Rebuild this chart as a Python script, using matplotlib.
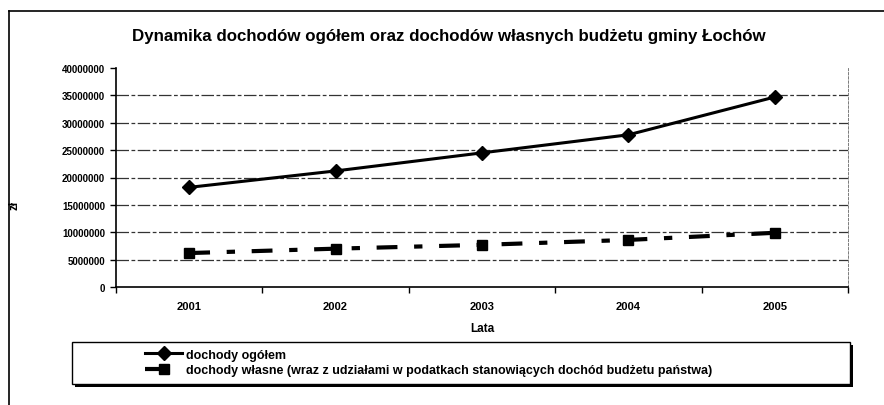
import numpy as np
import matplotlib.pyplot as plt
from matplotlib.patches import Rectangle
from matplotlib.lines import Line2D

plt.rcParams['font.family'] = ['Liberation Sans', 'DejaVu Sans']
plt.rcParams['font.weight'] = 'bold'

lata = ['2001', '2002', '2003', '2004', '2005']
dochody_ogolem = [18200000, 21200000, 24500000, 27800000, 34700000]
dochody_wlasne = [6200000, 7000000, 7700000, 8600000, 9900000]
y_ticks = [0, 5000000, 10000000, 15000000, 20000000, 25000000, 30000000, 35000000, 40000000]

W, H = 884, 406
fig = plt.figure(figsize=(W / 100, H / 100), dpi=100)
ax = fig.add_axes([116 / W, 1 - 288 / H, 732 / W, 219 / H])

x = np.arange(len(lata))

# gridlines (not at top)
for t in y_ticks[1:-1]:
    ax.axhline(t, color='#333333', lw=0.9, ls=(0, (10, 2, 3, 2)), zorder=1)

ax.plot(x, dochody_ogolem, color='black', lw=2.2, marker='D', ms=7, zorder=3,
        label='dochody ogółem')
ax.plot(x, dochody_wlasne, color='black', lw=3, ls=(0, (5, 4, 2, 4)), marker='s', ms=7,
        zorder=3, label='dochody własne (wraz z udziałami w podatkach stanowiących dochód budżetu państwa)')

ax.set_xlim(-0.5, len(lata) - 0.5)
ax.set_ylim(0, 40000000)
ax.set_yticks(y_ticks)
ax.set_yticklabels([str(t) for t in y_ticks], fontsize=7, fontweight='bold')
ax.set_xticks(x)
ax.set_xticklabels(lata, fontsize=8, fontweight='bold')
ax.set_xticks(np.arange(len(lata) + 1) - 0.5, minor=True)
ax.tick_params(axis='x', which='major', length=0, pad=10)
ax.tick_params(axis='x', which='minor', length=4, direction='out', width=1)
ax.tick_params(axis='y', length=4, direction='out', width=1, pad=4)

ax.spines['top'].set_visible(False)
ax.spines['right'].set_linestyle((0, (3, 2)))
ax.spines['right'].set_linewidth(0.6)
ax.spines['right'].set_color('#666666')
ax.spines['left'].set_linewidth(1.2)
ax.spines['bottom'].set_linewidth(1.2)

ax.set_xlabel('Lata', fontsize=8.5, fontweight='bold', labelpad=8)
fig.text(14 / W, 1 - 205 / H, 'zł', rotation=90, fontsize=8.5, fontweight='bold',
         ha='center', va='center')

fig.text(449 / W, 1 - 37 / H,
         'Dynamika dochodów ogółem oraz dochodów własnych budżetu gminy Łochów',
         fontsize=12.2, fontweight='bold', ha='center', va='center')

# legend box with shadow
shadow = Rectangle((75 / W, 1 - 388 / H), 778 / W, 42 / H, transform=fig.transFigure,
                   facecolor='black', edgecolor='none', zorder=0)
box = Rectangle((72 / W, 1 - 385 / H), 778 / W, 42 / H, transform=fig.transFigure,
                facecolor='white', edgecolor='black', lw=1, zorder=1)
fig.patches.extend([shadow, box])
handles, labels = ax.get_legend_handles_labels()
leg = fig.legend(handles, labels, loc='upper left', bbox_to_anchor=(136 / W, 1 - 341 / H),
                 frameon=False, fontsize=9, handlelength=3.0, handletextpad=0.3,
                 labelspacing=0.25, borderpad=0.2)
for t in leg.get_texts():
    t.set_fontweight('bold')

# outer frame (top and left)
fig.add_artist(Line2D([9 / W, 1], [1 - 12 / H, 1 - 12 / H], transform=fig.transFigure,
                      color='black', lw=1.2))
fig.add_artist(Line2D([9 / W, 9 / W], [0, 1 - 12 / H], transform=fig.transFigure,
                      color='black', lw=1.2))

fig.savefig('out.png', dpi=100)
